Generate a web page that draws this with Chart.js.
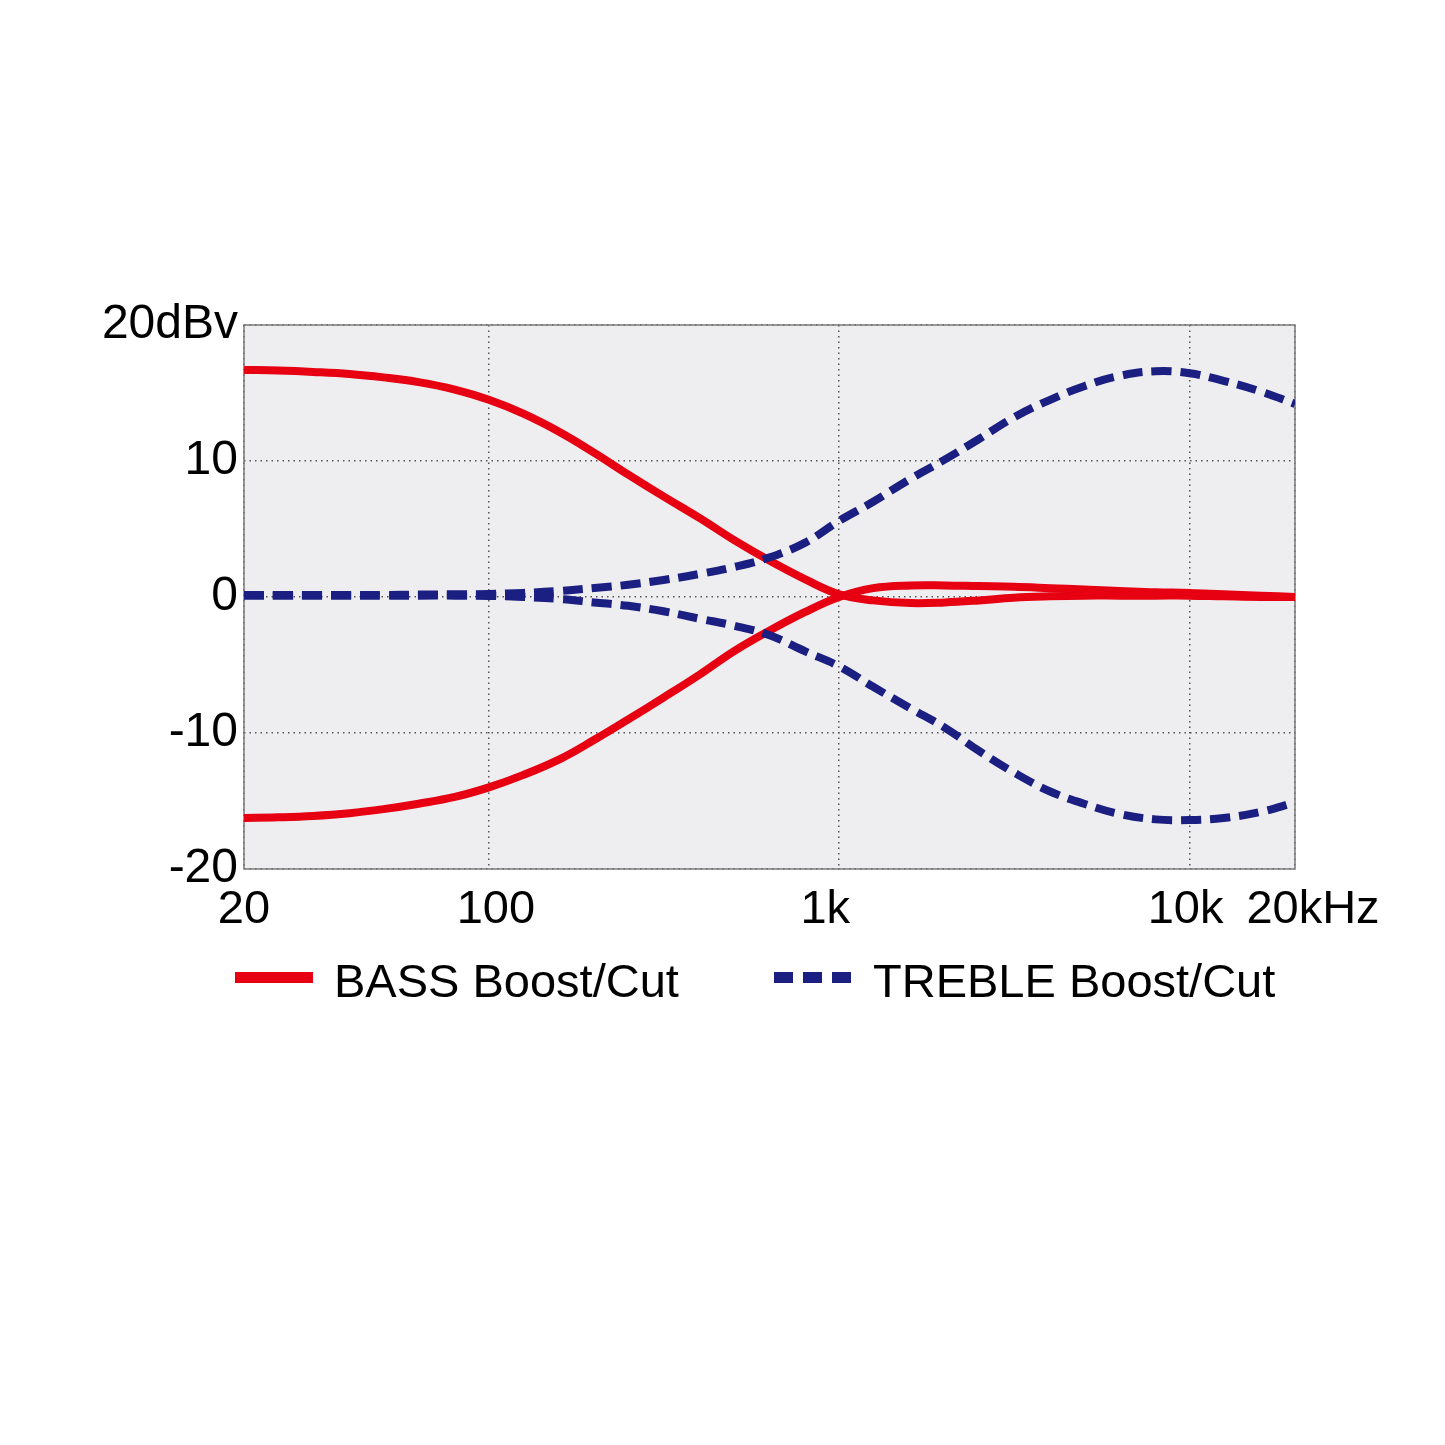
<!DOCTYPE html>
<html>
<head>
<meta charset="utf-8">
<script src="https://cdn.jsdelivr.net/npm/chart.js@4.4.1/dist/chart.umd.min.js"></script>
<style>
  html, body { margin: 0; padding: 0; background: #fff; }
  #wrap { width: 1445px; height: 1445px; }
</style>
</head>
<body>
<div id="wrap"><canvas id="eqChart"></canvas></div>
<script>
// Tone control response — BASS / TREBLE boost & cut

const freqs = [20, 25, 31.5, 40, 50, 63, 80, 100, 125, 160, 200, 250, 315, 400, 500, 630, 800,
               1000, 1250, 1600, 2000, 2500, 3150, 4000, 5000, 6300, 8000, 10000, 12500, 16000, 20000];

const bassBoost   = [16.7, 16.65, 16.55, 16.4, 16.15, 15.8, 15.25, 14.5, 13.5, 12.1, 10.6, 9.0, 7.4, 5.8, 4.2, 2.7, 1.3,
                     0.2, -0.25, -0.45, -0.4, -0.25, -0.05, 0.05, 0.1, 0.1, 0.1, 0.1, 0.05, 0.0, 0.0];
const bassCut     = [-16.25, -16.2, -16.1, -15.9, -15.6, -15.2, -14.7, -14.0, -13.1, -11.9, -10.5, -9.0, -7.4, -5.7, -4.0, -2.5, -1.1,
                     0.0, 0.65, 0.85, 0.85, 0.8, 0.75, 0.65, 0.55, 0.45, 0.35, 0.3, 0.2, 0.1, 0.0];
const trebleBoost = [0.15, 0.15, 0.15, 0.15, 0.15, 0.18, 0.2, 0.22, 0.3, 0.45, 0.66, 0.9, 1.25, 1.7, 2.2, 2.9, 4.0,
                     5.6, 7.0, 8.7, 10.1, 11.6, 13.2, 14.5, 15.5, 16.25, 16.6, 16.45, 15.9, 15.1, 14.2];
const trebleCut   = [0.1, 0.1, 0.1, 0.1, 0.1, 0.1, 0.1, 0.08, 0.0, -0.15, -0.4, -0.65, -1.05, -1.6, -2.1, -2.8, -4.0,
                     -5.1, -6.6, -8.2, -9.6, -11.3, -12.9, -14.3, -15.2, -15.95, -16.35, -16.4, -16.25, -15.8, -15.1];

const xTicks = [20, 100, 1000, 10000, 20000];
const xTickLabels = ['20', '100', '1k', '10k', '20kHz'];
const yTicks = [-20, -10, 0, 10, 20];
const yTickLabels = ['-20', '-10', '0', '10', '20dBv'];

const RED = '#e60012';
const NAVY = '#1b1f82';
const FONT = '"Liberation Sans", Arial, Helvetica, sans-serif';

const pts = arr => freqs.map((f, i) => ({ x: f, y: arr[i] }));

// plot background + frame
const framePlugin = {
    id: 'frame',
    beforeDraw(chart) {
        const { ctx, chartArea: a } = chart;
        ctx.save();
        ctx.fillStyle = '#eeeef0';
        ctx.fillRect(a.left, a.top, a.right - a.left, a.bottom - a.top);
        ctx.restore();
    },
    beforeDatasetsDraw(chart) {
        const { ctx, chartArea: a } = chart;
        ctx.save();
        ctx.strokeStyle = '#7a7a7a';
        ctx.lineWidth = 1.5;
        ctx.strokeRect(a.left, a.top, a.right - a.left, a.bottom - a.top);
        ctx.restore();
    }
};

// x labels: the original nudges some of them off their grid line
const xLabelNudge = [0, 7, -14, -4, 18];
const xLabelPlugin = {
    id: 'xLabels',
    afterDraw(chart) {
        const { ctx, scales: { x } } = chart;
        ctx.save();
        ctx.fillStyle = '#000';
        ctx.font = '47px ' + FONT;
        ctx.textAlign = 'center';
        ctx.textBaseline = 'alphabetic';
        xTicks.forEach((v, i) => {
            ctx.fillText(xTickLabels[i], x.getPixelForValue(v) + xLabelNudge[i], 923);
        });
        ctx.restore();
    }
};

// legend drawn by hand so the item spacing matches
const legendPlugin = {
    id: 'eqLegend',
    afterDraw(chart) {
        const { ctx } = chart;
        const items = [
            { ds: chart.data.datasets[0], x: 235, dash: [] },
            { ds: chart.data.datasets[2], x: 774, dash: [19, 10] }
        ];
        const yLine = 977.5, baseline = 997;
        ctx.save();
        items.forEach(it => {
            ctx.strokeStyle = it.ds.borderColor;
            ctx.lineWidth = 11;
            ctx.lineCap = 'butt';
            ctx.setLineDash(it.dash);
            ctx.beginPath();
            ctx.moveTo(it.x, yLine);
            ctx.lineTo(it.x + 78, yLine);
            ctx.stroke();
            ctx.setLineDash([]);
            ctx.fillStyle = '#000';
            ctx.font = '47px ' + FONT;
            ctx.textBaseline = 'alphabetic';
            ctx.textAlign = 'left';
            ctx.fillText(it.ds.label, it.x + 99, baseline);
        });
        ctx.restore();
    }
};

new Chart(document.getElementById('eqChart'), {
    type: 'line',
    data: {
        datasets: [
            { label: 'BASS Boost/Cut', data: pts(bassBoost), borderColor: RED, borderWidth: 8, order: 3 },
            { label: 'BASS Boost/Cut', data: pts(bassCut), borderColor: RED, borderWidth: 8, order: 4 },
            { label: 'TREBLE Boost/Cut', data: pts(trebleBoost), borderColor: NAVY, borderWidth: 8, borderDash: [20, 9], order: 1 },
            { label: 'TREBLE Boost/Cut', data: pts(trebleCut), borderColor: NAVY, borderWidth: 8, borderDash: [20, 9], order: 2 },
        ]
    },
    options: {
        responsive: true,
        maintainAspectRatio: false,
        animation: false,
        layout: { padding: { top: 325, left: 0, right: 150, bottom: 506 } },
        elements: {
            point: { radius: 0, hoverRadius: 0 },
            line: { tension: 0.4, fill: false, borderCapStyle: 'butt' }
        },
        scales: {
            x: {
                type: 'logarithmic',
                min: 20, max: 20000,
                afterBuildTicks: axis => { axis.ticks = xTicks.map(v => ({ value: v })); },
                afterFit: axis => { axis.height = 70; },
                ticks: { display: false, autoSkip: false, maxRotation: 0 },
                grid: { drawTicks: false, color: '#555', lineWidth: 1.5 },
                border: { display: false, dash: [1.5, 4] }
            },
            y: {
                min: -20, max: 20,
                afterBuildTicks: axis => { axis.ticks = yTicks.map(v => ({ value: v })); },
                afterFit: axis => { axis.width = 244; },
                ticks: {
                    padding: 6,
                    color: '#000',
                    font: { family: FONT, size: 48 },
                    callback: v => yTickLabels[yTicks.indexOf(v)] ?? ''
                },
                grid: { drawTicks: false, color: '#555', lineWidth: 1.5 },
                border: { display: false, dash: [1.5, 4] }
            }
        },
        plugins: {
            legend: { display: false },
            tooltip: { enabled: false }
        }
    },
    plugins: [framePlugin, xLabelPlugin, legendPlugin]
});
</script>
</body>
</html>
